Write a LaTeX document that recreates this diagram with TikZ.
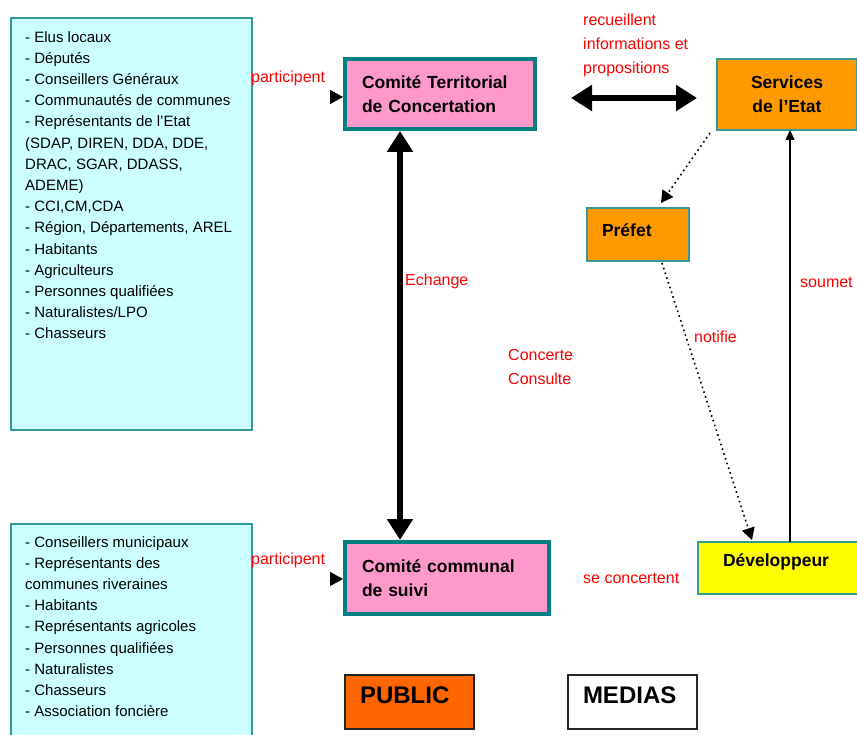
\documentclass[tikz,border=0pt]{standalone}
\usepackage{fontspec}
\setmainfont{Liberation Sans}
\usepackage{tikz}
\usetikzlibrary{positioning,arrows.meta}
\definecolor{listcyan}{RGB}{204,255,255}
\definecolor{tealline}{RGB}{51,153,153}
\definecolor{tealdark}{RGB}{0,128,128}
\definecolor{comitepink}{RGB}{255,153,204}
\definecolor{etatorange}{RGB}{255,153,0}
\definecolor{devyellow}{RGB}{255,255,0}
\definecolor{publicorange}{RGB}{255,102,0}
\definecolor{lblred}{RGB}{255,0,0}
\tikzset{
  listbox/.style={draw=tealline, line width=2pt, fill=listcyan, anchor=north west, inner sep=0pt, outer sep=0pt},
  listtxt/.style={inner sep=0pt, align=left, font=\fontsize{15}{21.2}\selectfont},
  comite/.style={draw=tealdark, line width=4pt, fill=comitepink, anchor=north west, outer sep=0pt, align=left, inner xsep=17pt, font=\fontsize{17.5}{24}\selectfont\bfseries},
  etatbox/.style={draw=tealline, line width=2pt, fill=etatorange, anchor=north west, outer sep=0pt, align=center, font=\fontsize{17.5}{24}\selectfont\bfseries},
  mediabox/.style={draw=black!85, line width=2pt, anchor=north west, outer sep=0pt, align=left, inner xsep=15pt, text width=99pt, minimum height=54pt, text depth=13pt, font=\fontsize{24}{28}\selectfont\bfseries},
  redlbl/.style={text=lblred, inner sep=0pt, align=left, font=\fontsize{16}{24}\selectfont},
  bigarr/.style={{Triangle[length=21pt,width=25pt]}-{Triangle[length=21pt,width=25pt]}, line width=5.5pt},
  headarr/.style={-{Triangle[length=13pt,width=14pt]}, line width=1pt},
  dotarr/.style={-{Triangle[length=12pt,width=13pt]}, line width=1.6pt, dash pattern=on 1.6pt off 3.4pt},
  thinarr/.style={-{Triangle[length=10pt,width=9pt]}, line width=1.5pt},
}
\begin{document}
\begin{tikzpicture}[x=1pt, y=-1pt]
  \path[use as bounding box, fill=white] (0,0) rectangle (857,735);
  \clip (0,0) rectangle (857,735);
  % participant lists
  \node[listbox, minimum width=241, minimum height=412] (terlist) at (11,18) {};
  \node[listtxt, below right=13pt and 14pt of terlist.north west] (tertxt) {%
    - Elus locaux\\
    - Députés\\
    - Conseillers Généraux\\
    - Communautés de communes\\
    - Représentants de l'Etat\\
    (SDAP, DIREN, DDA, DDE,\\
    DRAC, SGAR, DDASS,\\
    ADEME)\\
    - CCI,CM,CDA\\
    - Région, Départements, AREL\\
    - Habitants\\
    - Agriculteurs\\
    - Personnes qualifiées\\
    - Naturalistes/LPO\\
    - Chasseurs};
  \node[listbox, minimum width=241, minimum height=240] (comlist) at (11,524) {};
  \node[listtxt, below right=12pt and 14pt of comlist.north west] (comtxt) {%
    - Conseillers municipaux\\
    - Représentants des\\
    communes riveraines\\
    - Habitants\\
    - Représentants agricoles\\
    - Personnes qualifiées\\
    - Naturalistes\\
    - Chasseurs\\
    - Association foncière};
  % committees
  \node[comite, text width=156pt, minimum height=70pt] (ctc) at (345,59) {Comité Territorial\\de Concertation};
  \node[comite, text width=170pt, minimum height=72pt] (ccs) at (345,542) {Comité communal\\de suivi};
  % state side
  \node[etatbox, text width=140pt, inner xsep=0pt, minimum height=71pt] (sde) at (717,59) {Services\\de l'Etat};
  \node[etatbox, align=left, text width=72pt, inner xsep=15pt, minimum height=53pt, text depth=8pt] (pre) at (587,208) {Préfet};
  \node[etatbox, fill=devyellow, align=left, text width=114pt, inner xsep=25pt, minimum height=52pt, text depth=16pt] (dev) at (698,542) {Développeur};
  % public and medias
  \node[mediabox, fill=publicorange] (pub) at (345,675) {PUBLIC};
  \node[mediabox, fill=white] (med) at (568,675) {MEDIAS};
  % connectors
  \coordinate (echx) at (400,0);
  \coordinate (soux) at (790,0);
  \draw[bigarr, shorten <=2pt, shorten >=2pt] (echx |- ctc.south) -- (echx |- ccs.north);
  \draw[bigarr, shorten <=36pt, shorten >=20pt] ([yshift=-4pt]ctc.east) -- ([yshift=-4pt]ctc.east -| sde.west);
  \draw[headarr] ([xshift=-15pt,yshift=-3pt]ctc.west) -- ([xshift=-2pt,yshift=-3pt]ctc.west);
  \draw[headarr] ([xshift=-15pt,yshift=-1pt]ccs.west) -- ([xshift=-2pt,yshift=-1pt]ccs.west);
  \draw[dotarr] ([xshift=-7pt,yshift=-3pt]sde.south west) -- ([xshift=-28pt,yshift=5pt]pre.north east);
  \draw[dotarr] ([xshift=24pt,yshift=-2pt]pre.south) -- ([xshift=54pt,yshift=2pt]dev.north west);
  \draw[thinarr] (soux |- dev.north) -- (soux |- sde.south);
  % labels
  \node[redlbl, anchor=west] (partter) at (251,78) {participent};
  \node[redlbl, anchor=west] (partcom) at (251,560) {participent};
  \node[redlbl, anchor=north west] (recueil) at (583,13.5) {recueillent\\informations et\\propositions};
  \node[redlbl, anchor=west] (echg) at (405,281) {Echange};
  \node[redlbl, anchor=west] (concert) at (508,367) {Concerte\\Consulte};
  \node[redlbl, anchor=west] (notif) at (694,337) {notifie};
  \node[redlbl, anchor=west] (soum) at (800,282) {soumet};
  \node[redlbl, anchor=west] (secon) at (583,578) {se concertent};
\end{tikzpicture}
\end{document}
